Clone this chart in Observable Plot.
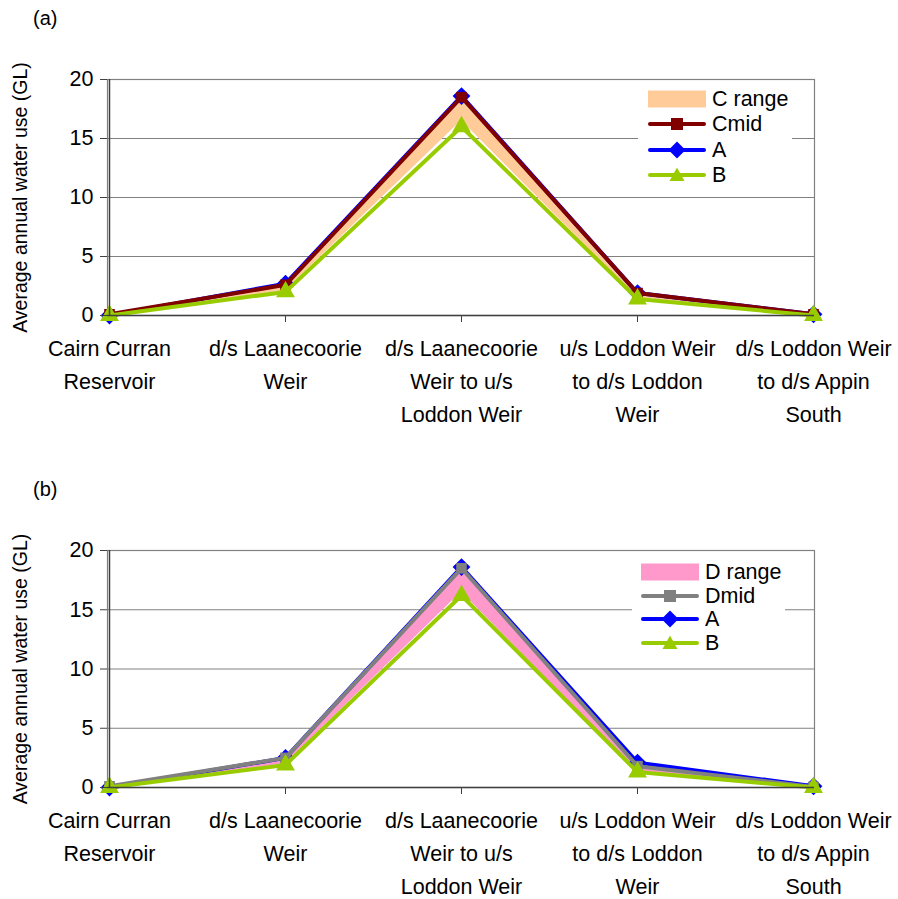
<!DOCTYPE html>
<html><head><meta charset="utf-8">
<script src="https://cdn.jsdelivr.net/npm/d3@7"></script>
<script src="https://cdn.jsdelivr.net/npm/@observablehq/plot@0.6"></script>
<style>
body{margin:0;background:#fff;font-family:"Liberation Sans",Arial,sans-serif;}
#wrap{position:relative;width:898px;height:899px;overflow:hidden;}
.panel{position:absolute;left:0;}
.tag{position:absolute;font-size:20px;color:#000;}
.legend{position:absolute;background:#fff;font-size:21.5px;color:#000;}
.row{position:absolute;left:0;display:flex;align-items:center;height:24px;}
.row svg{display:block;}
.row span{margin-left:6px;line-height:24px;}
</style>
</head><body>
<div id="wrap"></div>
<script>
const categories = ["Cairn Curran\nReservoir", "d/s Laanecoorie\nWeir", "d/s Laanecoorie\nWeir to u/s\nLoddon Weir", "u/s Loddon Weir\nto d/s Loddon\nWeir", "d/s Loddon Weir\nto d/s Appin\nSouth"];
const yTicks = [0, 5, 10, 15, 20];

// Panel (a)
const aCmid  = [0.1, 2.6, 18.5, 1.9, 0.1];
const aA     = [0.0, 2.7, 18.6, 1.9, 0.1];
const aB     = [0.0, 2.0, 16.0, 1.4, 0.0];
const aCLow  = [0.0, 2.1, 16.5, 1.5, 0.0];
const aCHigh = [0.1, 2.5, 18.4, 1.8, 0.1];

// Panel (b)
const bDmid  = [0.1, 2.5, 18.5, 1.8, 0.05];
const bA     = [0.0, 2.5, 18.6, 2.1, 0.1];
const bB     = [0.0, 1.9, 16.2, 1.3, 0.0];
const bDLow  = [0.0, 2.0, 16.5, 1.4, 0.0];
const bDHigh = [0.1, 2.4, 18.3, 1.7, 0.05];

const yTitle = "Average annual water use (GL)";

function rows(vals) { return categories.map((c, i) => ({cat: c, v: vals[i]})); }
function band(lo, hi) { return categories.map((c, i) => ({cat: c, lo: lo[i], hi: hi[i]})); }

function panel(opts) {
  const {height, marginTop, marginBottom, lo, hi, mid, A, B, rangeColor, midColor} = opts;
  return Plot.plot({
    width: 898, height, marginTop, marginBottom, marginLeft: 107, marginRight: 84,
    style: {fontFamily: '"Liberation Sans", Arial, sans-serif', background: "#fff", overflow: "visible"},
    x: {type: "point", domain: categories, padding: 0},
    y: {domain: [0, 20]},
    marks: [
      Plot.gridY(yTicks, {stroke: "#808080", strokeOpacity: 1, strokeWidth: 1}),
      Plot.frame({stroke: "#808080", strokeWidth: 1.2}),
      Plot.areaY(band(lo, hi), {x: "cat", y1: "lo", y2: "hi", fill: rangeColor, fillOpacity: 1, curve: "linear"}),
      Plot.line(rows(A), {x: "cat", y: "v", stroke: "#0000ff", strokeWidth: 4}),
      Plot.dot(rows(A), {x: "cat", y: "v", symbol: "diamond2", r: 8, fill: "#0000ff", stroke: "none"}),
      Plot.line(rows(mid), {x: "cat", y: "v", stroke: midColor, strokeWidth: 4}),
      Plot.dot(rows(mid), {x: "cat", y: "v", symbol: "square", r: 6, fill: midColor, stroke: "none"}),
      Plot.line(rows(B), {x: "cat", y: "v", stroke: "#99cc00", strokeWidth: 4}),
      Plot.dot(rows(B), {x: "cat", y: "v", symbol: "triangle", r: 7, fill: "#99cc00", stroke: "none"}),
      Plot.axisY(yTicks, {tickSize: 7, tickPadding: 7, fontSize: 21.5, stroke: "#404040", color: "#000",
        label: null}),
      Plot.text([yTitle], {text: d => d, frameAnchor: "left", textAnchor: "middle", rotate: -90, dx: -87, fontSize: 19.5, fill: "#000"}),
      Plot.ruleX([categories[0]], {stroke: "#404040", strokeWidth: 1.5}),
      Plot.ruleY([0], {stroke: "#404040", strokeWidth: 1.5}),
      Plot.axisX(categories.slice(1, -1), {tickSize: 7, text: null, stroke: "#404040", label: null}),
      Plot.text(categories, {x: d => d, text: d => d, frameAnchor: "bottom", lineAnchor: "top",
        dy: 17, lineHeight: 1.53, fontSize: 21.5, fill: "#000"})
    ]
  });
}

function legend(parent, box, items) {
  const lg = document.createElement("div");
  lg.className = "legend";
  Object.assign(lg.style, {left: box.left + "px", top: box.top + "px", width: box.width + "px", height: box.height + "px"});
  items.forEach((it, i) => {
    const r = document.createElement("div");
    r.className = "row";
    r.style.top = (box.rowTop + i * box.step - 12 - box.top) + "px";
    r.style.left = (box.swLeft - box.left) + "px";
    const ns = "http://www.w3.org/2000/svg";
    const s = document.createElementNS(ns, "svg");
    s.setAttribute("width", 58); s.setAttribute("height", 24);
    if (it.type === "rect") {
      s.innerHTML = `<rect x="0" y="3.5" width="58" height="17" fill="${it.color}"/>`;
    } else {
      let m = "";
      if (it.type === "square") m = `<rect x="23" y="6" width="12" height="12" fill="${it.color}"/>`;
      if (it.type === "diamond") m = `<path d="M29 3.5 L37.5 12 L29 20.5 L20.5 12 Z" fill="${it.color}"/>`;
      if (it.type === "triangle") m = `<path d="M29 4.5 L36.5 18 L21.5 18 Z" fill="${it.color}"/>`;
      s.innerHTML = `<line x1="2" y1="12" x2="56" y2="12" stroke="${it.color}" stroke-width="4" stroke-linecap="round"/>` + m;
    }
    r.appendChild(s);
    const t = document.createElement("span");
    t.textContent = it.label;
    r.appendChild(t);
    lg.appendChild(r);
  });
  parent.appendChild(lg);
}

const wrap = document.getElementById("wrap");

const pa = panel({height: 470, marginTop: 79, marginBottom: 155, lo: aCLow, hi: aCHigh, mid: aCmid, A: aA, B: aB, rangeColor: "#ffcc99", midColor: "#800000"});
const da = document.createElement("div"); da.className = "panel"; da.style.top = "0px"; da.appendChild(pa); wrap.appendChild(da);

const pb = panel({height: 429, marginTop: 80, marginBottom: 112, lo: bDLow, hi: bDHigh, mid: bDmid, A: bA, B: bB, rangeColor: "#ff99cc", midColor: "#808080"});
const db = document.createElement("div"); db.className = "panel"; db.style.top = "470px"; db.appendChild(pb); wrap.appendChild(db);

const ta = document.createElement("div"); ta.className = "tag"; ta.textContent = "(a)"; ta.style.left = "33px"; ta.style.top = "7px"; wrap.appendChild(ta);
const tb = document.createElement("div"); tb.className = "tag"; tb.textContent = "(b)"; tb.style.left = "33px"; tb.style.top = "478px"; wrap.appendChild(tb);

legend(wrap, {left: 638, top: 85, width: 154, height: 102, rowTop: 99, step: 25.3, swLeft: 648}, [
  {type: "rect", color: "#ffcc99", label: "C range"},
  {type: "square", color: "#800000", label: "Cmid"},
  {type: "diamond", color: "#0000ff", label: "A"},
  {type: "triangle", color: "#99cc00", label: "B"}
]);
legend(wrap, {left: 632, top: 557, width: 153, height: 96, rowTop: 572, step: 23.5, swLeft: 641}, [
  {type: "rect", color: "#ff99cc", label: "D range"},
  {type: "square", color: "#808080", label: "Dmid"},
  {type: "diamond", color: "#0000ff", label: "A"},
  {type: "triangle", color: "#99cc00", label: "B"}
]);
</script>
</body></html>
